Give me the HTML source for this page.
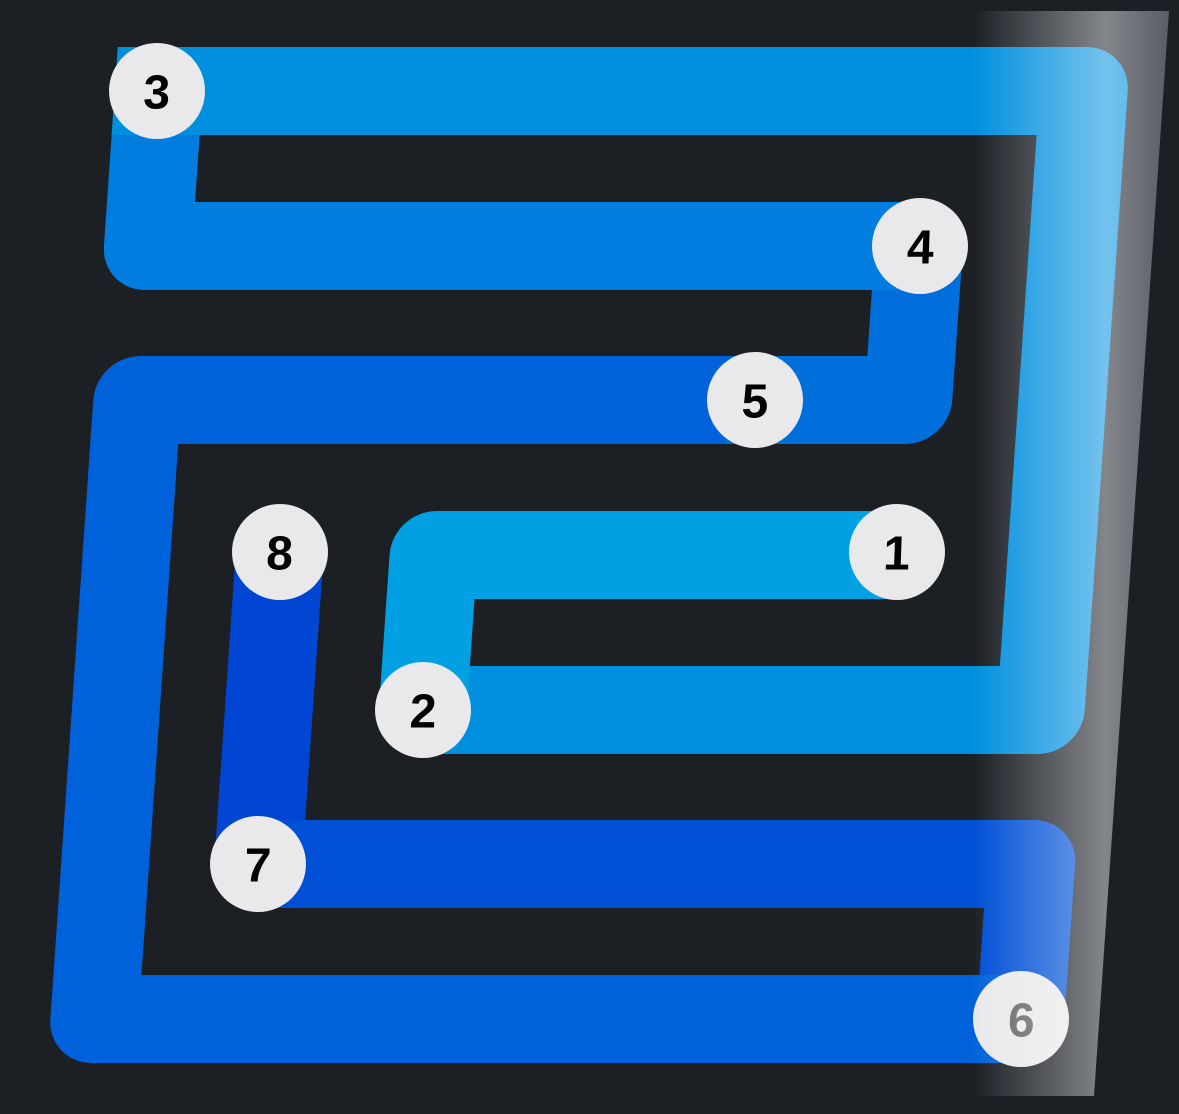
<!DOCTYPE html>
<html><head><meta charset="utf-8"><style>
html,body{margin:0;padding:0;background:#1c1f24;}
svg{display:block}
text{font-family:"Liberation Sans",sans-serif;font-size:48px;font-weight:bold;text-anchor:middle;dominant-baseline:central}
</style></head><body>
<svg width="1179" height="1114" viewBox="0 0 1179 1114" xmlns="http://www.w3.org/2000/svg">
<defs>
<linearGradient id="sh" x1="955" y1="0" x2="1169" y2="0" gradientUnits="userSpaceOnUse">
<stop offset="0" stop-color="#000"/>
<stop offset="0.08" stop-color="#000"/>
<stop offset="0.70" stop-color="#747577"/>
<stop offset="1" stop-color="#45484b"/>
</linearGradient>
</defs>
<rect width="1179" height="1114" fill="#1c1f24"/>
<g transform="matrix(1,0,-0.0693,1,0,0)" fill="none" stroke-width="88" stroke-linejoin="round" stroke-linecap="butt">
<polyline points="318,864 318,555" stroke="#0046d2"/>
<polyline points="1091,1019 1091,864 318,864" stroke="#0050d6"/>
<polyline points="755,400 165,400 165,1019 1091,1019" stroke="#0062da"/>
<polyline points="936,246 936,400 755,400" stroke="#006fdc"/>
<polyline points="165,91 165,246 936,246" stroke="#007ddf"/>
<polyline points="472,710 1090,710 1090,91 165,91" stroke="#008fde"/>
<polyline points="300,91 165,91" stroke="#008fde" stroke-linecap="square"/>
<polyline points="935,555 472,555 472,710" stroke="#00a0e2"/>
</g>
<g fill="#e9e9eb">
<circle cx="157" cy="91" r="48"/><circle cx="920" cy="246" r="48"/>
<circle cx="755" cy="400" r="48"/><circle cx="897" cy="552" r="48"/>
<circle cx="280" cy="552" r="48"/><circle cx="423" cy="710" r="48"/>
<circle cx="258" cy="864" r="48"/><circle cx="1021" cy="1019" r="48"/>
</g>
<g fill="#000">
<text x="157" y="93" transform="translate(3,0) skewX(-2)">3</text>
<text x="920" y="248" transform="translate(9,0) skewX(-2)">4</text>
<text x="755" y="402" transform="translate(14,0) skewX(-2)">5</text>
<text x="897" y="554" transform="translate(19,0) skewX(-2)">1</text>
<text x="280" y="554" transform="translate(19,0) skewX(-2)">8</text>
<text x="423" y="712" transform="translate(25,0) skewX(-2)">2</text>
<text x="258" y="866" transform="translate(30,0) skewX(-2)">7</text>
<text x="1021" y="1021" fill="#666" transform="translate(36,0) skewX(-2)">6</text>
</g>
<polygon points="955,11 1169,11 1094,1096 880,1096" fill="url(#sh)" style="mix-blend-mode:screen"/>
</svg>
</body></html>
